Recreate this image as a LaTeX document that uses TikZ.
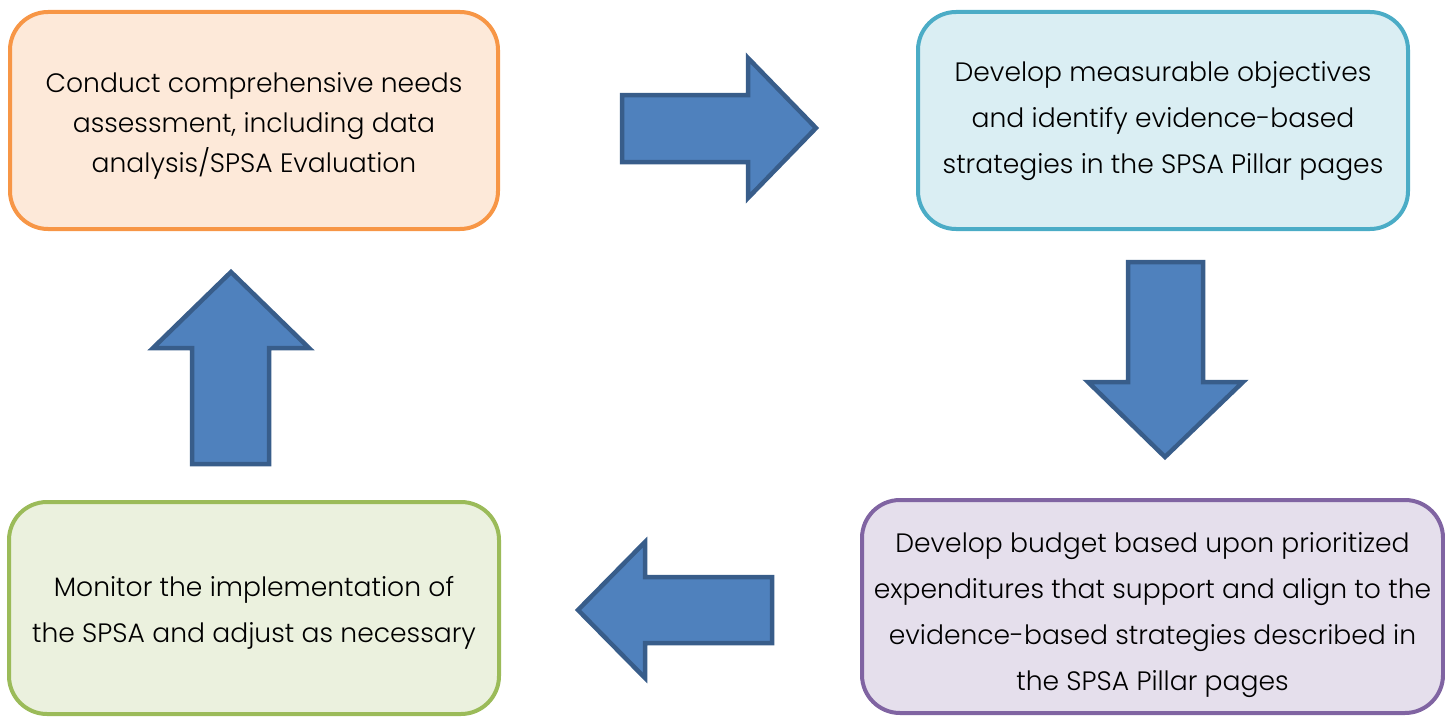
\documentclass[tikz,border=0pt]{standalone}
\usepackage{fontspec}
\setmainfont{Poppins}[UprightFont=* Light]
\definecolor{orangeD}{HTML}{F79646}
\definecolor{orangeL}{HTML}{FDE9D9}
\definecolor{blueD}{HTML}{4BACC6}
\definecolor{blueL}{HTML}{DAEEF3}
\definecolor{purpD}{HTML}{8064A2}
\definecolor{purpL}{HTML}{E5DFEC}
\definecolor{greenD}{HTML}{9BBB59}
\definecolor{greenL}{HTML}{EBF1DE}
\definecolor{arrF}{HTML}{4F81BD}
\definecolor{arrD}{HTML}{385D8A}
\begin{document}
\begin{tikzpicture}[x=1pt,y=-1pt,
  box/.style={rounded corners=38pt, line width=4pt, inner sep=0pt},
  txt/.style={align=center, inner sep=0pt, text=black, font=\fontsize{26.6}{46}\selectfont},
  blockarrow/.style={fill=arrF, draw=arrD, line width=4.5pt, line join=miter}]
\useasboundingbox (0,0) rectangle (1445,717);
\node[box, draw=orangeD, fill=orangeL, minimum width=488pt, minimum height=217pt] (b1) at (254,120.5) {};
\node[txt, font=\fontsize{26.6}{40}\selectfont] (t1) at (254,126)
  {Conduct comprehensive needs\\assessment, including data\\analysis/SPSA Evaluation};
\node[box, draw=blueD, fill=blueL, minimum width=490pt, minimum height=217pt] (b2) at (1163,120.5) {};
\node[txt] (t2) at (1163,121)
  {Develop measurable objectives\\and identify evidence-based\\strategies in the SPSA Pillar pages};
\node[box, draw=purpD, fill=purpL, minimum width=581pt, minimum height=213pt] (b3) at (1152.5,606.5) {};
\node[txt] (t3) at (1152.5,615)
  {Develop budget based upon prioritized\\expenditures that support and align to the\\evidence-based strategies described in\\the SPSA Pillar pages};
\node[box, draw=greenD, fill=greenL, minimum width=490pt, minimum height=212pt] (b4) at (254,608) {};
\node[txt] (t4) at (254,613)
  {Monitor the implementation of\\the SPSA and adjust as necessary};
% block arrows
\draw[blockarrow] (622,95) -- (748,95) -- (748,58) -- (816,128) -- (748,198) -- (748,162) -- (622,162) -- cycle;
\draw[blockarrow] (1128,262) -- (1203,262) -- (1203,382) -- (1243,382) -- (1165,457) -- (1088,382) -- (1128,382) -- cycle;
\draw[blockarrow] (772,577) -- (645,577) -- (645,542) -- (578,610) -- (645,678) -- (645,643) -- (772,643) -- cycle;
\draw[blockarrow] (192,464) -- (192,348) -- (153,348) -- (231,272) -- (309,348) -- (269,348) -- (269,464) -- cycle;
\end{tikzpicture}
\end{document}
